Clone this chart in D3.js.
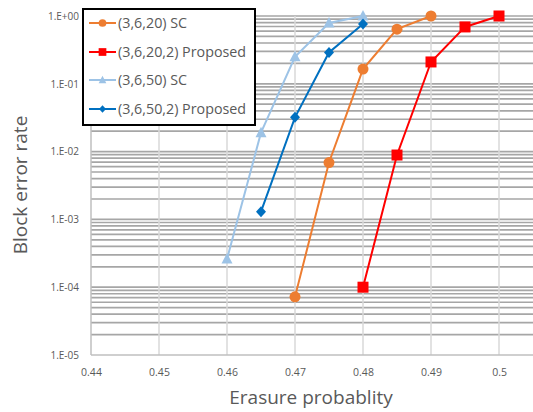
<!DOCTYPE html>
<html><head><meta charset="utf-8">
<script src="https://cdn.jsdelivr.net/npm/d3@7"></script>
<style>body{margin:0;background:#fff;} text{font-family:"Open Sans",sans-serif;}</style>
</head><body><svg id="c" width="533" height="412"></svg>
<script>
const xTicks = [0.44,0.45,0.46,0.47,0.48,0.49,0.5];
const yTicks = [1,1e-1,1e-2,1e-3,1e-4,1e-5];
const yTickLabels = ["1.E+00","1.E-01","1.E-02","1.E-03","1.E-04","1.E-05"];
const seriesNames = ["(3,6,20) SC","(3,6,20,2) Proposed","(3,6,50) SC","(3,6,50,2) Proposed"];
const seriesColors = ["#ED7D31","#FF0000","#9DC3E6","#0070C0"];
const seriesMarkers = ["circle","square","triangle","diamond"];
const x_sc20 = [0.47,0.475,0.48,0.485,0.49];
const y_sc20 = [7.2e-5,6.9e-3,0.165,0.64,1.0];
const x_pr20 = [0.48,0.485,0.49,0.495,0.5];
const y_pr20 = [1.0e-4,8.9e-3,0.21,0.69,1.0];
const x_sc50 = [0.46,0.465,0.47,0.475,0.48];
const y_sc50 = [2.6e-4,0.019,0.25,0.79,1.0];
const x_pr50 = [0.465,0.47,0.475,0.48];
const y_pr50 = [1.3e-3,0.032,0.29,0.76];
const series = [[x_sc20,y_sc20],[x_pr20,y_pr20],[x_sc50,y_sc50],[x_pr50,y_pr50]];

const svg = d3.select("#c");
const x = d3.scaleLinear().domain([0.44,0.5]).range([91,499]);
const y = d3.scaleLog().domain([1e-5,1]).range([355,16]);

const minor = [];
for (let e=-5;e<0;e++) for (let m=2;m<=9;m++) minor.push(m*Math.pow(10,e));
svg.append("g").selectAll("line").data(minor.concat(yTicks.slice(0,5))).join("line")
  .attr("x1",91).attr("x2",533).attr("y1",d=>y(d)).attr("y2",d=>y(d))
  .attr("stroke","#a6a6a6").attr("stroke-width",1.7);
svg.append("g").selectAll("line").data(xTicks.slice(1)).join("line")
  .attr("x1",d=>x(d)).attr("x2",d=>x(d)).attr("y1",16).attr("y2",355)
  .attr("stroke","#d9d9d9").attr("stroke-width",1.5);
svg.append("line").attr("x1",91).attr("x2",91).attr("y1",16).attr("y2",355).attr("stroke","#bfbfbf").attr("stroke-width",1.5);
svg.append("line").attr("x1",91).attr("x2",533).attr("y1",355).attr("y2",355).attr("stroke","#bfbfbf").attr("stroke-width",1.5);

const yAxis = d3.axisLeft(y).tickValues(yTicks).tickFormat((d,i)=>yTickLabels[i]).tickSize(0).tickPadding(12);
const ga = svg.append("g").attr("transform","translate(91,0)").call(yAxis);
ga.select(".domain").remove();
ga.selectAll("text").attr("fill","#595959").style("font-size","10px").style("font-family","'Open Sans',sans-serif");
const xAxis = d3.axisBottom(x).tickValues(xTicks).tickFormat(d=>d3.format("")(+d.toFixed(2))).tickSize(0).tickPadding(14);
const gx = svg.append("g").attr("transform","translate(0,355)").call(xAxis);
gx.select(".domain").remove();
gx.selectAll("text").attr("fill","#595959").style("font-size","10.5px").style("font-family","'Open Sans',sans-serif");

svg.append("text").attr("transform","translate(27,185) rotate(-90)").attr("text-anchor","middle")
  .attr("fill","#595959").style("font-size","19px").text("Block error rate");
svg.append("text").attr("x",311).attr("y",404).attr("text-anchor","middle")
  .attr("fill","#595959").style("font-size","19px").text("Erasure probablity");

function marker(g, type, cx, cy, color, s) {
  if (type==="circle") g.append("circle").attr("cx",cx).attr("cy",cy).attr("r",s*0.55).attr("fill",color);
  else if (type==="square") g.append("rect").attr("x",cx-s*0.55).attr("y",cy-s*0.55).attr("width",s*1.1).attr("height",s*1.1).attr("fill",color);
  else if (type==="triangle") g.append("path").attr("d",`M${cx},${cy-s*0.6}L${cx+s*0.55},${cy+s*0.45}L${cx-s*0.55},${cy+s*0.45}Z`).attr("fill",color);
  else g.append("path").attr("d",`M${cx},${cy-s*0.55}L${cx+s*0.5},${cy}L${cx},${cy+s*0.55}L${cx-s*0.5},${cy}Z`).attr("fill",color);
}

const line = d3.line().x(d=>x(d[0])).y(d=>y(d[1]));
series.forEach((s,i)=>{
  const pts = s[0].map((v,j)=>[v,s[1][j]]);
  const g = svg.append("g");
  g.append("path").attr("d",line(pts)).attr("fill","none").attr("stroke",seriesColors[i]).attr("stroke-width",2);
  pts.forEach(p=>marker(g, seriesMarkers[i], x(p[0]), y(p[1]), seriesColors[i], 10));
});

const lg = svg.append("g");
lg.append("rect").attr("x",83).attr("y",9).attr("width",172).attr("height",116).attr("fill","#fff").attr("stroke","#000").attr("stroke-width",2);
const ly = [23,52,80,109];
seriesNames.forEach((n,i)=>{
  lg.append("line").attr("x1",89).attr("x2",116).attr("y1",ly[i]).attr("y2",ly[i]).attr("stroke",seriesColors[i]).attr("stroke-width",2);
  marker(lg, seriesMarkers[i], 102.5, ly[i], seriesColors[i], 7);
  lg.append("text").attr("x",118).attr("y",ly[i]).attr("dy","0.35em").attr("fill","#595959").style("font-size","14.3px").text(n);
});
</script></body></html>
